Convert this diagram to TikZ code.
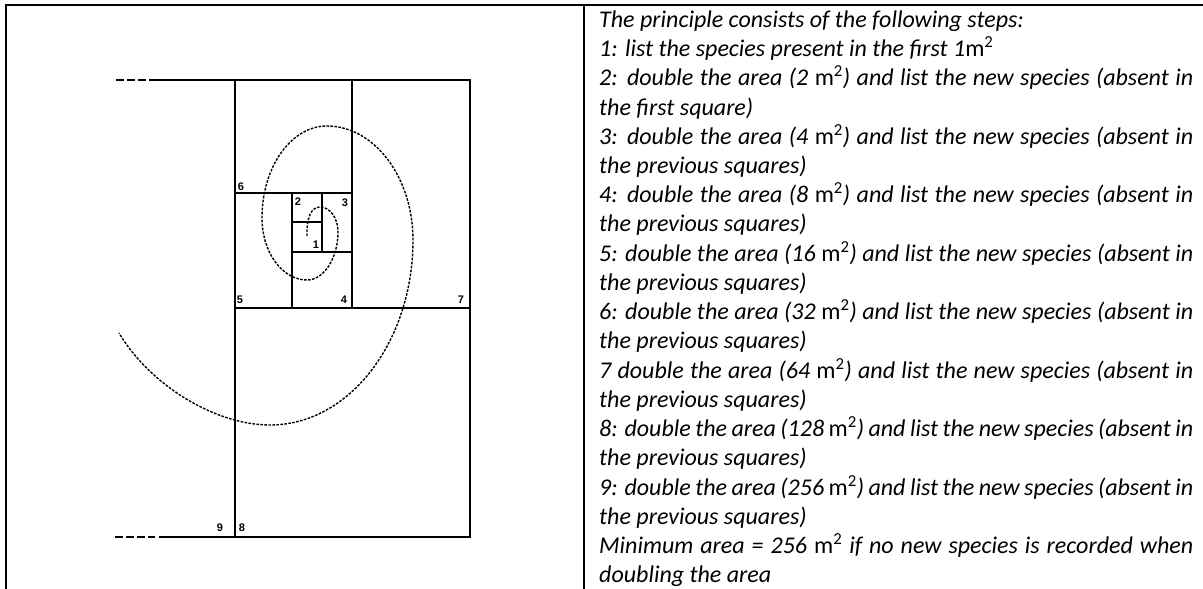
\documentclass[tikz,border=0pt]{standalone}
\usepackage{fontspec}
\setmainfont{Carlito}
\newfontfamily\labelfont{Liberation Sans}
\usetikzlibrary{positioning}
\newcommand{\sqm}{\textup{m\textsuperscript{2}}}

\begin{document}
\begin{tikzpicture}[
    x=1pt, y=-1pt,
    frame/.style={line width=2pt},
    plot/.style={line width=1.3pt},
    ext/.style={line width=1.6pt, dash pattern=on 8pt off 3pt},
    spiral/.style={line width=1.4pt, dash pattern=on 2.6pt off 1.4pt},
    num/.style={font=\labelfont\bfseries\fontsize{11}{11}\selectfont, inner sep=0pt},
    steps/.style={text width=594pt, align=justify, inner sep=0pt, font=\itshape\fontsize{24}{29.24}\selectfont}
]
\useasboundingbox (0,0) rectangle (1203,589);
% Table frame
\draw[frame] (6,589) -- (6,5) -- (1203,5);
\draw[frame] (584,5) -- (584,589);

% Doubled squares
\draw[plot] (152,80) -- (470,80) -- (470,537) -- (159,537);
\draw[plot] (235,80) -- (235,537);
\draw[plot] (352,80) -- (352,308);
\draw[plot] (235,308) -- (470,308);
\draw[plot] (235,193) -- (352,193);
\draw[plot] (292,193) -- (292,308);
\draw[plot] (292,252) -- (352,252);
\draw[plot] (322,193) -- (322,252);
\draw[plot] (292,222) -- (322,222);
% continued to the left
\draw[ext] (116,80) -- (152,80);
\draw[ext] (115,537) -- (155,537);

% Square numbers
\node[num] (n1) at (316,245) {1};
\node[num] (n2) at (298,202) {2};
\node[num] (n3) at (345,203) {3};
\node[num] (n4) at (344,300) {4};
\node[num] (n5) at (240,300) {5};
\node[num] (n6) at (241,187) {6};
\node[num] (n7) at (461,300) {7};
\node[num] (n8) at (242,528) {8};
\node[num] (n9) at (220,528) {9};

% Spiral
\draw[spiral] (307,236) .. controls (306.5,218) and (311,207) .. (320,207)
    .. controls (330,207) and (338,218) .. (338,232)
    .. controls (338,258) and (324,280) .. (307,280)
    .. controls (282,280) and (262,252) .. (262,218)
    .. controls (262,167) and (291,126) .. (327,126)
    .. controls (374,126) and (413,177) .. (413,240)
    .. controls (413,342) and (349,425) .. (270,425)
    .. controls (215,425) and (150,385) .. (119,333);

% Steps text
\node[steps, anchor=base west] (txt) at (599,27.3) {%
The principle consists of the following steps:\par
1: list the species present in the first 1\sqm\par
2: double the area (2 \sqm) and list the new species (absent in\linebreak the first square)\par
3: double the area (4 \sqm) and list the new species (absent in\linebreak the previous squares)\par
4: double the area (8 \sqm) and list the new species (absent in\linebreak the previous squares)\par
5: double the area (16 \sqm) and list the new species (absent in\linebreak the previous squares)\par
6: double the area (32 \sqm) and list the new species (absent in\linebreak the previous squares)\par
7 double the area (64 \sqm) and list the new species (absent in\linebreak the previous squares)\par
8: double the area (128 \sqm) and list the new species (absent in\linebreak the previous squares)\par
9: double the area (256 \sqm) and list the new species (absent in\linebreak the previous squares)\par
Minimum area = 256 \sqm{} if no new species is recorded when\linebreak doubling the area};
\end{tikzpicture}
\end{document}
